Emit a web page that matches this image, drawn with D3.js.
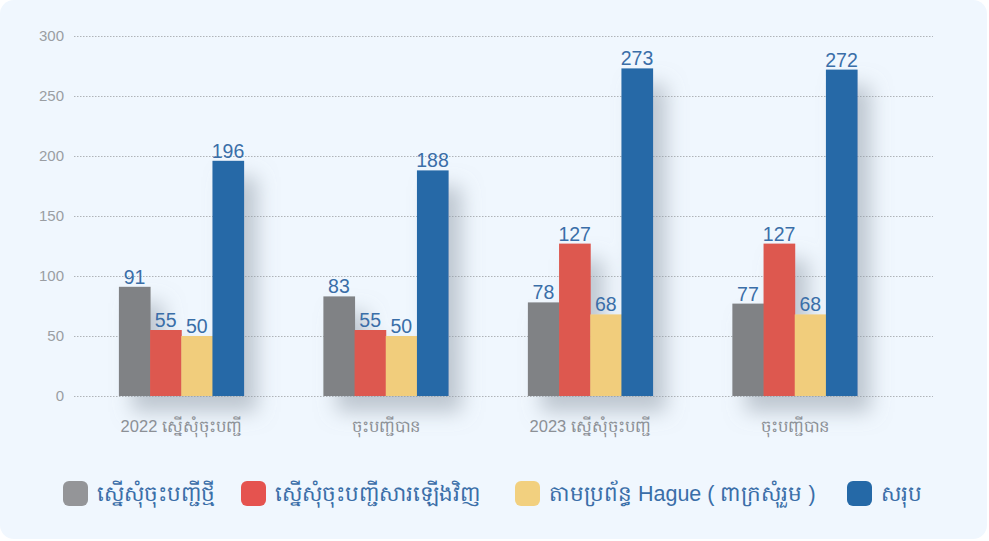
<!DOCTYPE html>
<html lang="km">

<head>
    <meta charset="UTF-8">
    <title>Chart</title>
    <style>
        body { margin: 0; background: #fff; }
        svg { display: block; font-family: "Liberation Sans", Arial, "Noto Sans", sans-serif; }
    </style>
</head>

<body>
    <script src="https://cdn.jsdelivr.net/npm/d3@7"></script>
    <script>
        // categories on x axis
        const categories = ['2022 ស្នើសុំចុះបញ្ជី', 'ចុះបញ្ជីបាន', '2023 ស្នើសុំចុះបញ្ជី', 'ចុះបញ្ជីបាន'];
        const seriesNames = ['ស្នើសុំចុះបញ្ជីថ្មី', 'ស្នើសុំចុះបញ្ជីសារឡើងវិញ', 'តាមប្រព័ន្ធ Hague ( ពាក្រសុំរួម )', 'សរុប'];
        const newReq = [91, 83, 78, 77];
        const renewReq = [55, 55, 127, 127];
        const hague = [50, 50, 68, 68];
        const total = [196, 188, 273, 272];
        const yTicks = [0, 50, 100, 150, 200, 250, 300];

        const colors = ['#808285', '#dd5850', '#f1cd7c', '#2569a7'];
        const legendColors = ['#949598', '#e5534f', '#f2d07f', '#2569a7'];
        const seriesData = [newReq, renewReq, hague, total];

        const w = 989;
        const h = 541;
        const svg = d3.select('body')
            .append('svg')
            .attr('width', w)
            .attr('height', h);

        // soft shadow behind bars
        const defs = svg.append('defs');
        const f = defs.append('filter').attr('id', 'shadow')
            .attr('x', '-50%').attr('y', '-30%').attr('width', '200%').attr('height', '170%');
        f.append('feDropShadow')
            .attr('dx', 13).attr('dy', 16)
            .attr('stdDeviation', 10)
            .attr('flood-color', '#8a95a2')
            .attr('flood-opacity', 0.5);

        svg.append('rect')
            .attr('x', 0).attr('y', 0)
            .attr('width', w - 2).attr('height', h - 2)
            .attr('rx', 14)
            .attr('fill', '#f0f7fe');

        const x0 = d3.scaleBand()
            .domain(d3.range(categories.length))
            .range([78, 898])
            .paddingInner(0.39)
            .paddingOuter(0.2);

        const x1 = d3.scaleBand()
            .domain(d3.range(seriesData.length))
            .range([0, x0.bandwidth()]);

        const y = d3.scaleLinear()
            .domain([0, 300])
            .range([396, 36]);

        // grid + y labels
        const yAxis = svg.append('g')
            .attr('transform', 'translate(74,0)')
            .call(d3.axisLeft(y).tickValues(yTicks).tickSize(-859).tickPadding(10));
        yAxis.select('.domain').remove();
        yAxis.selectAll('.tick line')
            .attr('stroke', '#b0b4b9')
            .attr('stroke-dasharray', '1.5,1.5');
        yAxis.selectAll('.tick text')
            .attr('fill', '#9a9ea3')
            .attr('font-size', 15);

        // bars
        const groups = svg.selectAll('.grp')
            .data(categories)
            .enter()
            .append('g')
            .attr('class', 'grp')
            .attr('transform', (d, i) => `translate(${x0(i)},0)`);

        groups.append('g')
            .attr('filter', 'url(#shadow)')
            .selectAll('rect')
            .data((d, i) => seriesData.map((s, k) => ({ k: k, v: s[i] })))
            .enter()
            .append('rect')
            .attr('x', (d) => x1(d.k))
            .attr('y', (d) => y(d.v))
            .attr('width', x1.bandwidth() + 0.5)
            .attr('height', (d) => y(0) - y(d.v))
            .attr('fill', (d) => colors[d.k]);

        groups.selectAll('.val')
            .data((d, i) => seriesData.map((s, k) => ({ k: k, v: s[i] })))
            .enter()
            .append('text')
            .attr('class', 'val')
            .attr('x', (d) => x1(d.k) + x1.bandwidth() / 2)
            .attr('y', (d) => y(d.v) - 3)
            .attr('text-anchor', 'middle')
            .attr('font-size', 19.5)
            .attr('fill', '#3a6ea8')
            .text((d) => d.v);

        // x labels
        svg.selectAll('.xl')
            .data(categories)
            .enter()
            .append('text')
            .attr('class', 'xl')
            .attr('x', (d, i) => x0(i) + x0.bandwidth() / 2)
            .attr('y', 432)
            .attr('text-anchor', 'middle')
            .attr('font-size', 16.5)
            .attr('fill', '#8c9096')
            .text((d) => d);

        // legend
        const legendX = [63, 241, 515, 847];
        const legend = svg.selectAll('.lg')
            .data(seriesNames)
            .enter()
            .append('g')
            .attr('class', 'lg')
            .attr('transform', (d, i) => `translate(${legendX[i]},481)`);
        legend.append('rect')
            .attr('width', 25).attr('height', 25)
            .attr('rx', 6)
            .attr('fill', (d, i) => legendColors[i]);
        legend.append('text')
            .attr('x', 34)
            .attr('y', 20)
            .attr('font-size', 21.5)
            .attr('fill', '#3a6ea8')
            .text((d) => d);
    </script>
</body>

</html>
